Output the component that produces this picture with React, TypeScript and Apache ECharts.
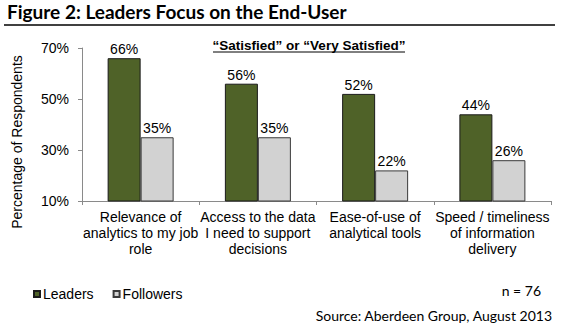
import React, { useEffect, useRef } from "react";
import * as echarts from "echarts";

const categories = [
  "Relevance of\nanalytics to my job\nrole",
  "Access to the data\nI need to support\ndecisions",
  "Ease-of-use of\nanalytical tools",
  "Speed / timeliness\nof information\ndelivery",
];
const leaders = [66, 56, 52, 44];
const followers = [35, 35, 22, 26];
const yTicks = { min: 10, max: 70, interval: 20 };

const ARIAL = "'Liberation Sans', Arial, sans-serif";
const GILL = "Lato, 'Open Sans', sans-serif";

export default function App() {
  const ref = useRef<HTMLDivElement>(null);
  useEffect(() => {
    if (!ref.current) return;
    const chart = echarts.init(ref.current, undefined, { renderer: "svg" });
    chart.setOption({
      animation: false,
      backgroundColor: "#ffffff",
      grid: { left: 82, right: 19, top: 48, bottom: 129 },
      legend: {
        left: 28,
        top: 282,
        icon: "rect",
        itemWidth: 6,
        itemHeight: 6,
        itemGap: 19,
        textStyle: { fontFamily: ARIAL, fontSize: 14, color: "#000", padding: [0, 0, 0, -2] },
        data: ["Leaders", "Followers"],
      },
      xAxis: {
        type: "category",
        data: categories,
        axisLine: { lineStyle: { color: "#8a8a8a", width: 1 } },
        axisTick: { show: true, length: 4, lineStyle: { color: "#8a8a8a" } },
        axisLabel: {
          interval: 0,
          margin: 8,
          fontFamily: ARIAL,
          fontSize: 14,
          lineHeight: 16,
          color: "#000",
          align: "center",
        },
      },
      yAxis: {
        type: "value",
        min: yTicks.min,
        max: yTicks.max,
        interval: yTicks.interval,
        splitLine: { show: false },
        axisLine: { show: true, lineStyle: { color: "#8a8a8a", width: 1 } },
        axisTick: { show: true, length: 4, lineStyle: { color: "#8a8a8a" } },
        axisLabel: {
          formatter: "{value}%",
          margin: 13,
          fontFamily: ARIAL,
          fontSize: 14,
          color: "#000",
        },
      },
      series: [
        {
          name: "Leaders",
          type: "bar",
          data: leaders,
          barWidth: 33,
          barGap: "0%",
          itemStyle: { color: "#4F6228", borderColor: "#1a1a1a", borderWidth: 1 },
          label: {
            show: true,
            position: "top",
            distance: 2,
            formatter: "{c}%",
            fontFamily: ARIAL,
            fontSize: 14,
            color: "#000",
          },
        },
        {
          name: "Followers",
          type: "bar",
          data: followers,
          barWidth: 33,
          itemStyle: { color: "#D2D2D2", borderColor: "#3a3a3a", borderWidth: 1 },
          label: {
            show: true,
            position: "top",
            distance: 2,
            formatter: "{c}%",
            fontFamily: ARIAL,
            fontSize: 14,
            color: "#000",
          },
        },
      ],
      graphic: [
        {
          type: "text",
          x: 7,
          y: 11,
          style: {
            text: "Figure 2: Leaders Focus on the End-User",
            fontFamily: GILL,
            fontWeight: "bold",
            fontSize: 19,
            fill: "#000",
            align: "left",
            verticalAlign: "middle",
          },
        },
        {
          type: "line",
          shape: { x1: 4, y1: 25, x2: 555, y2: 25 },
          style: { stroke: "#000", lineWidth: 1.5 },
        },
        {
          type: "text",
          x: 309,
          y: 45,
          style: {
            text: "\u201CSatisfied\u201D or \u201CVery Satisfied\u201D",
            fontFamily: ARIAL,
            fontWeight: "bold",
            fontSize: 13.5,
            fill: "#000",
            align: "center",
            verticalAlign: "middle",
          },
        },
        {
          type: "line",
          shape: { x1: 213, y1: 52, x2: 405, y2: 52 },
          style: { stroke: "#000", lineWidth: 1 },
        },
        {
          type: "text",
          x: 17,
          y: 142,
          rotation: Math.PI / 2,
          style: {
            text: "Percentage of Respondents",
            fontFamily: ARIAL,
            fontSize: 14,
            fill: "#000",
            align: "center",
            verticalAlign: "middle",
          },
        },
        {
          type: "text",
          x: 541,
          y: 290,
          style: {
            text: "n = 76",
            fontFamily: GILL,
            fontSize: 14,
            fill: "#000",
            align: "right",
            verticalAlign: "middle",
          },
        },
        {
          type: "text",
          x: 552,
          y: 315,
          style: {
            text: "Source: Aberdeen Group, August 2013",
            fontFamily: GILL,
            fontSize: 14,
            fill: "#000",
            align: "right",
            verticalAlign: "middle",
          },
        },
      ],
    });
    return () => chart.dispose();
  }, []);
  return (
    <div
      ref={ref}
      style={{ position: "absolute", left: 0, top: 0, width: 570, height: 330, background: "#fff" }}
    />
  );
}
